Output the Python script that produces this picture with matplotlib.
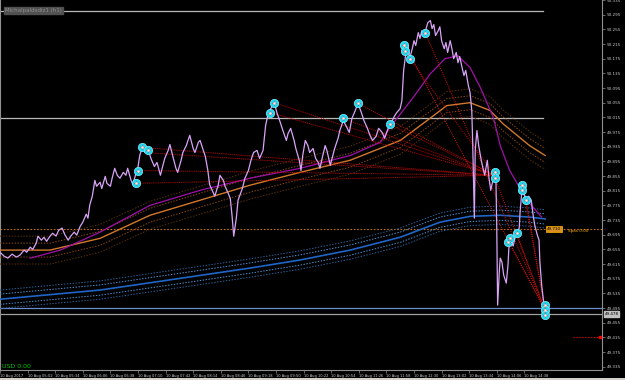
import numpy as np
import matplotlib
matplotlib.use("Agg")
import matplotlib.pyplot as plt

# ---------------------------------------------------------------------------
# DATA  (x = minutes since 10 Aug 04:30, y = price)
price_min = [0, 5, 9, 14, 19, 23, 28, 31, 35, 38,
             42, 44, 48, 51, 54, 58, 61, 65, 68, 72,
             75, 79, 82, 86, 89, 93, 96, 100, 102, 104,
             107, 110, 112, 116, 118, 122, 124, 128, 130, 133,
             136, 139, 143, 146, 148, 152, 154, 158, 160, 162,
             165, 168, 172, 175, 179, 182, 186, 188, 191, 195,
             197, 201, 204, 206, 210, 212, 216, 218, 220, 224,
             226, 230, 232, 235, 238, 241, 243, 246, 249, 253,
             255, 259, 261, 264, 267, 269, 271, 274, 276, 278,
             281, 284, 288, 291, 294, 298, 301, 305, 308, 311,
             314, 318, 321, 325, 328, 332, 334, 337, 341, 343,
             347, 349, 351, 354, 357, 359, 363, 366, 369, 371,
             373, 377, 379, 383, 385, 388, 392, 394, 398, 401,
             405, 408, 412, 415, 419, 422, 426, 429, 432, 436,
             439, 443, 446, 450, 453, 457, 460, 464, 466, 468,
             471, 473, 475, 478, 480, 482, 485, 487, 489, 492,
             494, 496, 499, 501, 503, 505, 508, 510, 512, 515,
             517, 519, 522, 524, 526, 529, 531, 533, 536, 538,
             540, 543, 545, 547, 548, 550, 551, 553, 555, 558,
             560, 562, 565, 567, 569, 572, 574, 575, 576, 577,
             579, 580, 582, 584, 587, 589, 590, 592, 595, 597,
             599, 602, 603, 605, 606, 609, 611, 613, 616, 618,
             620, 623, 625, 626, 628, 630, 632]
price = [49.647, 49.636, 49.631, 49.642, 49.634, 49.639, 49.653, 49.647, 49.661, 49.655,
         49.672, 49.691, 49.680, 49.688, 49.677, 49.691, 49.699, 49.691, 49.707, 49.713,
         49.696, 49.680, 49.691, 49.702, 49.694, 49.718, 49.729, 49.751, 49.740, 49.775,
         49.800, 49.843, 49.827, 49.838, 49.821, 49.854, 49.835, 49.827, 49.849, 49.876,
         49.857, 49.849, 49.865, 49.857, 49.876, 49.843, 49.832, 49.865, 49.879, 49.911,
         49.933, 49.919, 49.925, 49.903, 49.881, 49.892, 49.857, 49.876, 49.903, 49.925,
         49.941, 49.903, 49.876, 49.865, 49.898, 49.919, 49.938, 49.952, 49.966, 49.930,
         49.919, 49.947, 49.952, 49.930, 49.909, 49.870, 49.832, 49.816, 49.800, 49.830,
         49.857, 49.843, 49.827, 49.811, 49.794, 49.748, 49.691, 49.740, 49.789, 49.802,
         49.821, 49.849, 49.870, 49.898, 49.919, 49.925, 49.903, 49.925, 49.993, 50.026,
         50.039, 50.055, 50.028, 50.001, 49.979, 49.952, 49.971, 49.985, 49.952, 49.930,
         49.898, 49.870, 49.911, 49.952, 49.938, 49.919, 49.930, 49.903, 49.892, 49.876,
         49.898, 49.938, 49.925, 49.884, 49.903, 49.930, 49.958, 49.979, 50.006, 49.993,
         49.974, 50.012, 50.034, 50.053, 50.028, 50.006, 49.985, 49.966, 49.952, 49.963,
         49.985, 49.974, 49.958, 49.985, 49.996, 50.017, 50.028, 50.039, 50.061, 50.143,
         50.197, 50.211, 50.175, 50.202, 50.224, 50.211, 50.246, 50.230, 50.251, 50.240,
         50.257, 50.273, 50.279, 50.257, 50.268, 50.238, 50.251, 50.262, 50.224, 50.202,
         50.219, 50.192, 50.224, 50.202, 50.175, 50.192, 50.164, 50.181, 50.148, 50.129,
         50.143, 50.102, 50.083, 50.034, 49.952, 49.740, 49.925, 49.979, 49.938, 49.898,
         49.876, 49.857, 49.898, 49.849, 49.816, 49.849, 49.865, 49.849, 49.707, 49.503,
         49.598, 49.631, 49.620, 49.585, 49.563, 49.612, 49.658, 49.680, 49.664, 49.685,
         49.699, 49.713, 49.756, 49.811, 49.832, 49.794, 49.783, 49.800, 49.789, 49.751,
         49.721, 49.694, 49.680, 49.620, 49.558, 49.517, 49.478]

# moving averages
ma_fast_min = [35, 70, 116, 174, 232, 290, 348, 406, 441, 452, 479, 499, 516, 531, 545, 557, 572, 580, 591, 611, 628]
ma_fast = [49.631, 49.653, 49.702, 49.775, 49.816, 49.849, 49.876, 49.911, 49.947, 49.987, 50.069,
           50.134, 50.175, 50.183, 50.151, 50.096, 50.015, 49.938, 49.870, 49.789, 49.743]
ma_mid_min = [0, 58, 116, 174, 232, 290, 348, 406, 464, 495, 518, 545, 568, 583, 614, 632]
ma_mid = [49.653, 49.653, 49.685, 49.748, 49.789, 49.830, 49.865, 49.898, 49.952, 50.006,
          50.047, 50.055, 50.034, 49.998, 49.938, 49.911]
ma_slow_min = [0, 116, 186, 290, 348, 406, 464, 510, 545, 580, 614, 632]
ma_slow = [49.519, 49.544, 49.568, 49.604, 49.626, 49.653, 49.688, 49.729, 49.745, 49.748, 49.743, 49.738]
mid_env = [0.019, 0.038]
slow_env = [0.014, 0.025]

# swing points (cyan circles)
swing_min = [165, 172, 160, 158, 313, 318, 398, 415, 452, 468, 470, 475, 493,
             574, 574, 589, 591, 599, 605, 605, 610, 632, 632, 632]
swing_px = [49.933, 49.925, 49.870, 49.835, 50.028, 50.055, 50.012, 50.053, 49.996, 50.211,
            50.197, 50.175, 50.246, 49.865, 49.849, 49.674, 49.685, 49.699, 49.830, 49.816,
            49.789, 49.503, 49.489, 49.476]

# trend fan lines: start points and common end point
fan_a = [(165, 49.933), (168, 49.919), (160, 49.870), (158, 49.835), (313, 50.028),
         (318, 50.055), (398, 50.012), (415, 50.053), (452, 49.996), (475, 50.175)]
fan_a_end = (574, 49.857)
fan_b = [(493, 50.246), (470, 50.211), (574, 49.849), (590, 49.674), (599, 49.699),
         (606, 49.830), (610, 49.789)]
fan_b_end = (632, 49.489)

hline_gray = [50.306, 50.012]
pivot_level = 49.710
blue_level = 49.495
bid = 49.478
alert_level = 49.416

time_ticks = list(range(0, 609, 32))
time_labels = ['10 Aug 2017', '10 Aug 05:02', '10 Aug 05:34', '10 Aug 06:06', '10 Aug 06:38',
               '10 Aug 07:10', '10 Aug 07:42', '10 Aug 08:14', '10 Aug 08:46', '10 Aug 09:18',
               '10 Aug 09:50', '10 Aug 10:22', '10 Aug 10:54', '10 Aug 11:26', '10 Aug 11:58',
               '10 Aug 12:30', '10 Aug 13:02', '10 Aug 13:34', '10 Aug 14:06', '10 Aug 14:38']
price_ticks = [50.335, 50.295, 50.255, 50.215, 50.175, 50.135, 50.095, 50.055, 50.015,
               49.975, 49.935, 49.895, 49.855, 49.815, 49.775, 49.735, 49.695, 49.655,
               49.615, 49.575, 49.535, 49.495, 49.455, 49.415, 49.375, 49.335]

# ---------------------------------------------------------------------------
fig = plt.figure(figsize=(6.25, 3.8), dpi=100, facecolor='black')
ax = fig.add_axes([0.0, 10 / 380, 602 / 625, 370 / 380], facecolor='black')

ax.set_xlim(0, 698)
ax.set_ylim(49.326, 50.333)

# horizontal levels
for lv in hline_gray:
    ax.plot([0, 630], [lv, lv], color='#b8b8b8', lw=0.9, zorder=2)
ax.axhline(pivot_level, color='#c07010', lw=0.8, ls=(0, (1.5, 1.5)), zorder=2)
ax.axhline(blue_level, color='#6a8cc8', lw=0.9, zorder=2)
ax.axhline(bid, color='#a0a0a0', lw=0.9, zorder=2)
ax.plot([664, 696], [alert_level, alert_level], color='#e00000', lw=0.7, ls=(0, (1.5, 1.5)), zorder=2)
ax.plot([696], [alert_level], marker='s', ms=1.5, color='#ff0000', zorder=3)

# slow MA with envelopes
ms = np.array(ma_slow)
for d, c in zip(slow_env, ['#4f8fd0', '#2d5f95']):
    ax.plot(ma_slow_min, ms + d, color=c, lw=0.7, ls=(0, (1.5, 1.5)), zorder=3)
    ax.plot(ma_slow_min, ms - d, color=c, lw=0.7, ls=(0, (1.5, 1.5)), zorder=3)
ax.plot(ma_slow_min, ms, color='#1f66c8', lw=1.2, zorder=3)

# mid MA with envelopes
mm = np.array(ma_mid)
for d, c in zip(mid_env, ['#8a4a10', '#5a3008']):
    ax.plot(ma_mid_min, mm + d, color=c, lw=0.7, ls=(0, (1.5, 1.5)), zorder=3)
    ax.plot(ma_mid_min, mm - d, color=c, lw=0.7, ls=(0, (1.5, 1.5)), zorder=3)
ax.plot(ma_mid_min, mm, color='#d2782a', lw=1.0, zorder=3)

# fast MA
ax.plot(ma_fast_min, ma_fast, color='#a010a8', lw=0.9, zorder=3)

# fan lines
for (x0, y0) in fan_a:
    ax.plot([x0, fan_a_end[0]], [y0, fan_a_end[1]], color='#d00000', lw=0.7,
            ls=(0, (1, 1.2)), zorder=4)
for (x0, y0) in fan_b:
    ax.plot([x0, fan_b_end[0]], [y0, fan_b_end[1]], color='#e01010', lw=0.7,
            ls=(0, (1, 1.2)), zorder=4)

# price
ax.plot(price_min, price, color='#d9a3f7', lw=0.9, zorder=5)

# swing markers
ax.plot(swing_min, swing_px, 'o', ms=6, color='#19d8f0', mec='#7ff0ff', mew=0.5, zorder=6)
ax.plot(swing_min, swing_px, '+', ms=3, color='#ff2020', mew=0.8, zorder=7)
ax.plot(swing_min, swing_px, '.', ms=1.5, color='white', zorder=8)

# axes styling
ax.spines['top'].set_visible(False)
for s in ['left', 'right', 'bottom']:
    ax.spines[s].set_color('#909090')
    ax.spines[s].set_linewidth(0.8)

ax.yaxis.tick_right()
ax.set_yticks(price_ticks)
ax.set_yticklabels([f'{p:.3f}' for p in price_ticks])
ax.set_xticks(time_ticks)
ax.set_xticklabels(time_labels, ha='left')
ax.tick_params(axis='y', colors='#909090', labelcolor='#c8c8c8', labelsize=3.0,
               length=2, width=0.5, pad=1.5)
ax.tick_params(axis='x', colors='#909090', labelcolor='#c8c8c8', labelsize=2.6,
               length=2, width=0.5, pad=1.2)

# current price label
ax.text(1.004, (bid - 49.326) / (50.333 - 49.326), f'{bid:.3f}', transform=ax.transAxes,
        fontsize=3.0, color='black', ha='left', va='center', zorder=10, clip_on=False,
        bbox=dict(boxstyle='square,pad=0.2', fc='#c0c0c0', ec='#c0c0c0'))

# pivot label
ax.text(634, pivot_level, f'{pivot_level:.3f}', fontsize=3.0, color='black', ha='left',
        va='center', zorder=10,
        bbox=dict(boxstyle='square,pad=0.2', fc='#d89020', ec='#ffb000', lw=0.5))
ax.text(659, pivot_level - 0.004, 'Spas 0:00', fontsize=3.0, color='#ffb000', ha='left',
        va='center', zorder=10)

# top-left label
ax.text(6, 50.306, 'Michalpaldsdiz1 (h1)', fontsize=4, color='#909090', ha='left',
        va='center', zorder=10,
        bbox=dict(boxstyle='square,pad=0.2', fc='#505050', ec='#505050'))

ax.text(2, 49.336, 'USD 0.00', fontsize=4.5, color='#00c800', ha='left', va='center', zorder=10)

# bottom strip
fig.patches.append(plt.Rectangle((0, 0), 1, 2 / 380, transform=fig.transFigure,
                                 fc='#d4d0c8', ec='none'))

fig.savefig('out.png', dpi=100, facecolor='black')
